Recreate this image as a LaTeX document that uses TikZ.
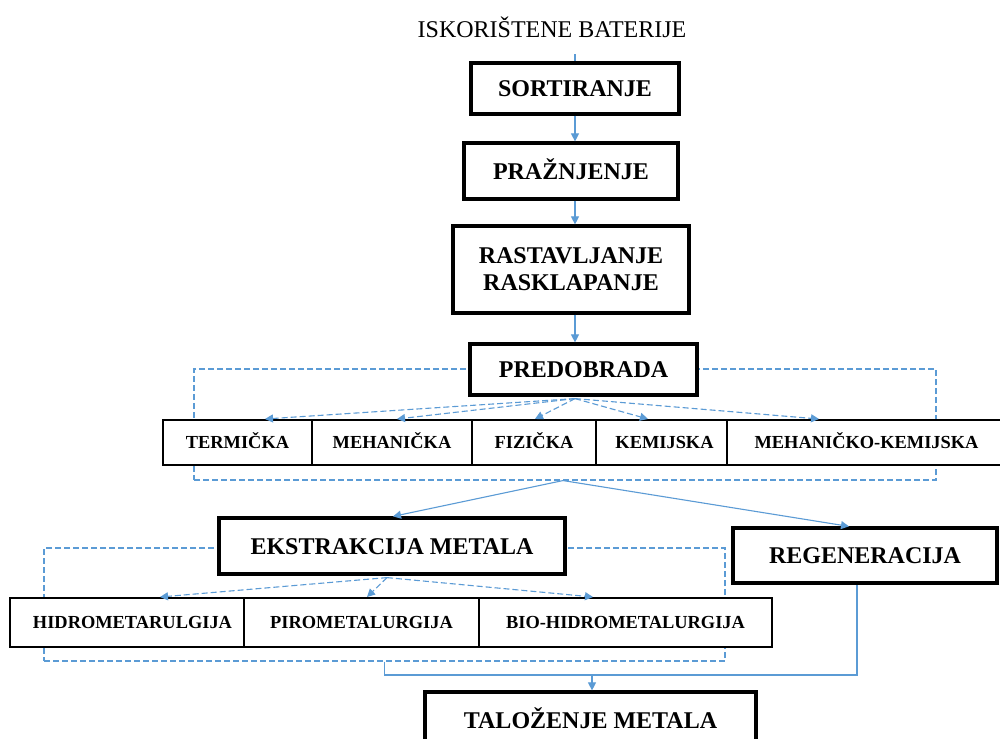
\documentclass[tikz,border=0pt]{standalone}
\usepackage{fontspec}
\setmainfont{Liberation Serif}
\usetikzlibrary{arrows.meta,calc}
\definecolor{lblue}{RGB}{91,155,213}
\begin{document}
\begin{tikzpicture}[x=1pt,y=-1pt,
  bigbox/.style={draw,line width=3.2pt,fill=white,inner sep=0pt,
    text height=16pt,text depth=0pt,
    font=\fontsize{24}{27}\selectfont\bfseries},
  twobox/.style={draw,line width=3.2pt,fill=white,inner sep=0pt,align=center,
    font=\fontsize{24}{27}\selectfont\bfseries},
  smallbox/.style={draw,line width=2pt,fill=white,inner sep=0pt,
    text height=12.6pt,text depth=0pt,
    font=\fontsize{18.4}{22}\selectfont\bfseries},
  conn/.style={lblue,line width=1.1pt},
  flow/.style={conn,-{Triangle[length=8pt,width=8pt]}},
  dflow/.style={flow,dash pattern=on 6pt off 3pt},
  group/.style={draw=lblue,line width=1.1pt,dash pattern=on 6pt off 3pt,inner sep=0pt}]
\useasboundingbox (0,0) rectangle (1000,738);
\fill[white] (0,0) rectangle (1000,738);

% title and top chain
\node[font=\fontsize{24}{27}\selectfont] (isk) at (552,27) {ISKORIŠTENE BATERIJE};
\node[bigbox,minimum width=208pt,minimum height=51pt] (sort) at (575,88.5) {SORTIRANJE};
\node[bigbox,minimum width=214pt,minimum height=56pt] (praz) at (571,171) {PRAŽNJENJE};
\node[twobox,minimum width=236pt,minimum height=87pt] (rast) at (571,269.5) {RASTAVLJANJE\\RASKLAPANJE};

% group 1
\node[group,minimum width=742pt,minimum height=111pt] (g1) at (565,424.5) {};
\node[bigbox,minimum width=227pt,minimum height=51pt] (pred) at (583.5,369.5) {PREDOBRADA};
\node[smallbox,minimum width=149pt,minimum height=45pt] (term) at (237.5,442.5) {TERMIČKA};
\node[smallbox,minimum width=160pt,minimum height=45pt] (meh) at (392,442.5) {MEHANIČKA};
\node[smallbox,minimum width=124pt,minimum height=45pt] (fiz) at (534,442.5) {FIZIČKA};
\node[smallbox,minimum width=131pt,minimum height=45pt] (kem) at (661.5,442.5) {\hspace{6pt}KEMIJSKA};
\node[smallbox,minimum width=279pt,minimum height=45pt] (mk) at (866.5,442.5) {MEHANIČKO-KEMIJSKA};

% group 2
\node[group,minimum width=681pt,minimum height=113pt] (g2) at (384.5,604.5) {};
\node[bigbox,minimum width=346pt,minimum height=56pt] (ekst) at (392,546) {EKSTRAKCIJA METALA};
\node[bigbox,minimum width=264pt,minimum height=55pt] (reg) at (865,555.5) {REGENERACIJA};
\node[smallbox,minimum width=234pt,minimum height=49pt] (hidro) at (127,622.5) {\hspace{11pt}HIDROMETARULGIJA};
\node[smallbox,minimum width=235pt,minimum height=49pt] (piro) at (361.5,622.5) {PIROMETALURGIJA};
\node[smallbox,minimum width=293pt,minimum height=49pt] (bio) at (625.5,622.5) {BIO-HIDROMETALURGIJA};

\node[bigbox,minimum width=331pt,minimum height=56pt] (talo) at (590.5,720) {TALOŽENJE METALA};

% top chain connectors
\draw[conn] ($(sort.north)+(0,-7)$) -- (sort.north);
\draw[flow] (sort.south) -- (praz.north -| sort.south);
\draw[flow] (praz.south -| sort.south) -- (rast.north -| sort.south);
\draw[flow] (rast.south -| sort.south) -- (pred.north -| sort.south);

% predobrada fan
\coordinate (pfan) at ($(pred.south)+(-8.5,2)$);
\draw[dflow] (pfan) -- ($(term.north)+(27.5,0)$);
\draw[dflow] (pfan) -- ($(meh.north)+(5,0)$);
\draw[dflow] (pfan) -- ($(fiz.north)+(1,0)$);
\draw[dflow] (pfan) -- ($(kem.north)+(-13.5,0)$);
\draw[dflow] (pfan) -- ($(mk.north)+(-47.5,0)$);

% split
\draw[flow] ($(g1.south)+(-2,0)$) -- ($(ekst.north)+(1,0)$);
\draw[flow] ($(g1.south)+(-2,0)$) -- ($(reg.north)+(-16,0)$);

% ekstrakcija fan
\coordinate (efan) at ($(ekst.south)+(-5,2)$);
\draw[dflow] (efan) -- ($(hidro.north)+(33,0)$);
\draw[dflow] (efan) -- ($(piro.north)+(5.5,0)$);
\draw[dflow] (efan) -- ($(bio.north)+(-32.5,0)$);

% merge
\coordinate (bar) at (592,675);
\coordinate (rdown) at ($(reg.south)+(-8,0)$);
\draw[conn] (g2.south) |- (rdown |- bar) -- (rdown);
\draw[flow] (bar) -- (talo.north -| bar);
\end{tikzpicture}
\end{document}
